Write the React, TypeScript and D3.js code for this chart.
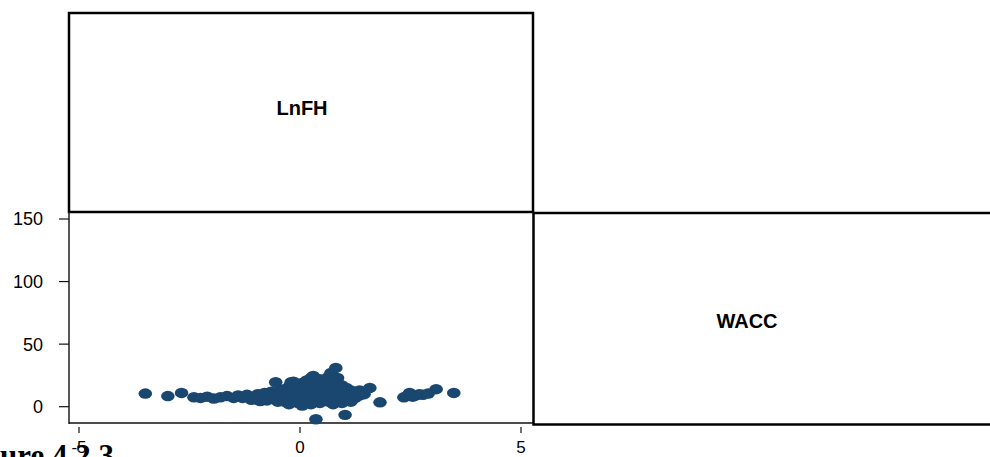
import React from 'react';
import * as d3 from 'd3';

// scatter matrix of LnFH vs WACC (only the lower-left cell has data)
const varNames = ['LnFH', 'WACC'];
const yTicks = [0, 50, 100, 150];
const xTicks = [-5, 0, 5];
const caption = 'Figure 4.2.3';

// LnFH values (x)
const lnfh = [
  -3.5, -2.99, -2.68, -2.4, -2.25, -2.1, -1.95, -1.8, -1.65, -1.5, -1.4, -1.3, -1.2, -1.1, -1.05,
  -1.0, -0.95, -0.9, -0.85, -0.8, -0.75, -0.7, -0.65, -0.6, -0.55, -0.5, -0.45, -0.55, -0.2,
  -0.35, -0.35, -0.35, -0.25, -0.25, -0.25, -0.25, -0.15, -0.15, -0.15, -0.15,
  -0.05, -0.05, -0.05, -0.05, 0.05, 0.05, 0.05, 0.05, 0.05, 0.15, 0.15, 0.15, 0.15,
  0.25, 0.25, 0.25, 0.25, 0.25, 0.35, 0.35, 0.35, 0.35, 0.45, 0.45, 0.45, 0.45, 0.45,
  0.55, 0.55, 0.55, 0.55, 0.65, 0.65, 0.65, 0.65, 0.65, 0.75, 0.75, 0.75, 0.75, 0.75,
  0.85, 0.85, 0.85, 0.85, 0.85, 0.95, 0.95, 0.95, 0.95, 1.05, 1.05, 1.05, 1.15, 1.15, 1.15,
  1.25, 1.25, 1.35, 1.35, 1.45,
  0.81, 0.36, 1.02, 1.58, 1.81, 0.3, 0.7,
  2.35, 2.42, 2.5, 2.55, 2.62, 2.7, 2.78, 2.9, 2.48, 3.08, 3.48,
];

// WACC values (y)
const wacc = [
  10.5, 8.5, 11, 7.5, 7, 8, 6.5, 7.5, 8.5, 7, 9, 7, 9.5, 5.5, 8,
  6, 10, 4.5, 7.5, 11, 5, 9, 12, 6, 10, 4, 13, 19.5, 19.5,
  4, 9, 14, 2, 7, 11, 16, 5, 10, 13, 20,
  3, 8, 12, 17, 1, 6, 10, 15, 19, 4, 9, 13, 21,
  2, 7, 12, 16, 23, 5, 10, 14, 19, 3, 8, 12, 17, 22,
  6, 11, 15, 20, 4, 9, 13, 18, 24, 2, 7, 12, 16, 21,
  5, 10, 14, 19, 23, 3, 8, 12, 17, 6, 10, 15, 4, 9, 13,
  7, 11, 9, 13, 10,
  31, -10, -6.5, 15, 3.5, 24.5, 27,
  7.5, 8.5, 9.5, 8, 9, 10, 9.5, 10.5, 11, 14, 11,
];

const App = () => {
  const x = d3.scaleLinear().domain([-5, 5]).range([79, 521]);
  const y = d3.scaleLinear().domain([0, 150]).range([406.7, 219]);
  const sans = 'Liberation Sans, Arial, sans-serif';

  return (
    <svg width={990} height={457} style={{ position: 'absolute', left: 0, top: 0, background: '#fff' }}>
      {/* diagonal label cells */}
      <rect x={69} y={13} width={464} height={199} fill="none" stroke="#000" strokeWidth={2.5} />
      <text x={302} y={115} textAnchor="middle" fontFamily={sans} fontWeight="bold" fontSize={20}>{varNames[0]}</text>
      <rect x={533.5} y={213} width={470} height={211.5} fill="none" stroke="#000" strokeWidth={2.5} />
      <text x={747} y={328} textAnchor="middle" fontFamily={sans} fontWeight="bold" fontSize={20}>{varNames[1]}</text>

      {/* axes of scatter cell */}
      <line x1={69} x2={69} y1={212} y2={424} stroke="#111" strokeWidth={1.4} />
      <line x1={69} x2={533} y1={423} y2={423} stroke="#111" strokeWidth={1.4} />
      {yTicks.map(t => (
        <g key={t}>
          <line x1={59} x2={69} y1={y(t)} y2={y(t)} stroke="#111" strokeWidth={1.2} />
          <text x={43} y={y(t)} dy="0.36em" textAnchor="end" fontFamily={sans} fontSize={18}>{t}</text>
        </g>
      ))}
      {xTicks.map(t => (
        <g key={t}>
          <line x1={x(t)} x2={x(t)} y1={427} y2={433} stroke="#111" strokeWidth={1.2} />
          <text x={x(t)} y={453} textAnchor="middle" fontFamily={sans} fontSize={17}>{t}</text>
        </g>
      ))}

      {/* points */}
      {lnfh.map((v, i) => (
        <ellipse key={i} cx={x(v)} cy={y(wacc[i])} rx={6.8} ry={5.2} fill="#1a476f" />
      ))}

      <text x={-43} y={466} fontFamily="Liberation Serif, Times New Roman, serif" fontWeight="bold" fontSize={31}>{caption}</text>
    </svg>
  );
};

export default App;
